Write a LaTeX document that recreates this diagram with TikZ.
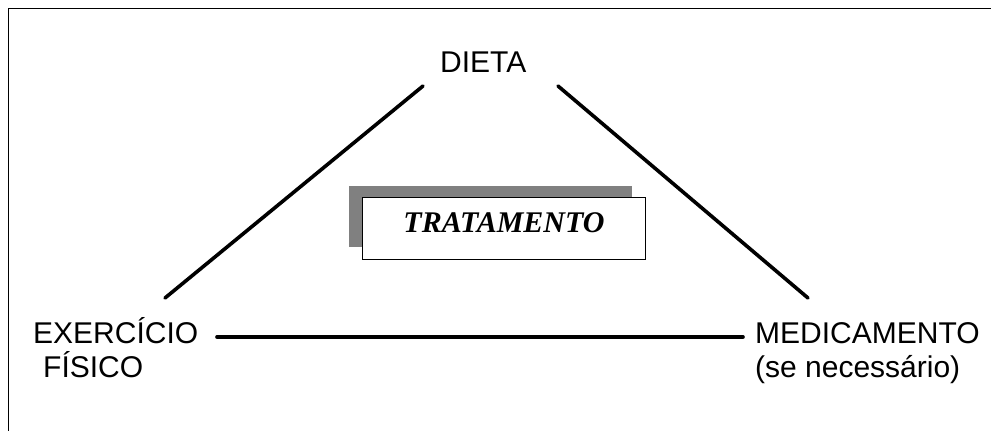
\documentclass[tikz,border=0pt]{standalone}
\usepackage{fontspec}
\setmainfont{Liberation Sans}
\newfontfamily\timesfont{Liberation Serif}
\definecolor{shadowgray}{HTML}{808080}
\begin{document}
\begin{tikzpicture}[x=1pt,y=-1pt,
  lbl/.style={inner sep=0pt,font=\fontsize{30}{34}\selectfont},
  link/.style={line width=3.6pt,line cap=round},
  frameline/.style={line width=1.6pt}]
\useasboundingbox (0,0) rectangle (991,431);
% frame
\draw[frameline] (8.5,440) -- (8.5,8.5) -- (1000,8.5);
% labels
\node[lbl,anchor=base west] (dieta) at (440,72) {DIETA};
\node[lbl,anchor=base west,align=left] (exer) at (33,377) {EXERCÍCIO\\\hspace{10pt}FÍSICO};
\node[lbl,anchor=base west,align=left] (med) at (755,377) {MEDICAMENTO\\(se necessário)};
% box with shadow
\fill[shadowgray] (349,186) rectangle (632,247);
\node[draw,line width=1.4pt,fill=white,minimum width=283pt,minimum height=62pt,inner sep=0pt,anchor=north west] (trat) at (362,197) {};
\node[inner sep=0pt,anchor=base,font=\timesfont\bfseries\itshape\fontsize{30}{34}\selectfont] (tratxt) at (504,232) {TRATAMENTO};
% connectors
\coordinate (l1) at (165,298);
\coordinate (l2) at (423,86);
\coordinate (r1) at (558,86);
\coordinate (r2) at (808,298);
\coordinate (h1) at (217,337);
\coordinate (h2) at (743,337);
\draw[link] (l1) -- (l2);
\draw[link] (r1) -- (r2);
\draw[link] (h1) -- (h2);
\end{tikzpicture}
\end{document}
